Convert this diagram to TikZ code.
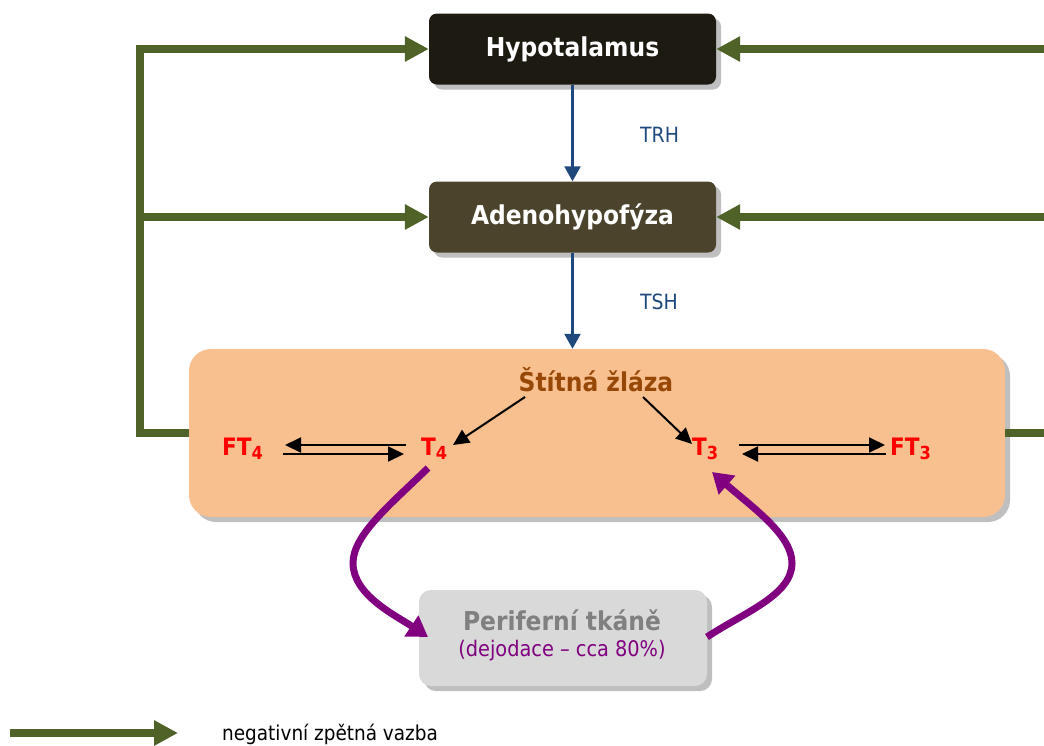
\documentclass[tikz,border=0pt]{standalone}
\usepackage{fontspec}
\setmainfont{DejaVu Sans Condensed}
\usetikzlibrary{arrows.meta,shadows}

\definecolor{hypoc}{HTML}{1D1A12}
\definecolor{adenoc}{HTML}{4B432C}
\definecolor{glandc}{HTML}{F9C08F}
\definecolor{periphc}{HTML}{D9D9D9}
\definecolor{shadec}{HTML}{BFBFBF}
\definecolor{feedc}{HTML}{4F6228}
\definecolor{hormc}{HTML}{1F497D}
\definecolor{purpc}{HTML}{800080}
\definecolor{brownc}{HTML}{984806}
\definecolor{greytxt}{HTML}{808080}

\newcommand\subnum[1]{\raisebox{-4pt}{\fontsize{18}{18}\selectfont #1}}

\tikzset{
  boxshadow/.style={drop shadow={shadow xshift=5pt, shadow yshift=-5pt, fill=shadec, opacity=1}},
  organbox/.style={rounded corners=8pt, minimum width=287pt, minimum height=71pt,
    inner sep=0pt, text=white, font=\bfseries\fontsize{26}{30}\selectfont, boxshadow},
  hormlabel/.style={anchor=base west, inner sep=0pt, text=hormc, font=\fontsize{21}{24}\selectfont},
  iodlabel/.style={anchor=base west, inner sep=0pt, text=red, font=\bfseries\fontsize{24}{28}\selectfont},
  feedback/.style={draw=feedc, line width=8pt, -{Triangle[length=24pt,width=24pt]}},
  hormone/.style={draw=hormc, line width=2.5pt, -{Triangle[length=15pt,width=16pt]}},
  convert/.style={draw=black, line width=2pt, -{Triangle[length=16pt,width=15pt]}},
  periflow/.style={draw=purpc, line width=7pt, -{Triangle[length=20pt,width=24pt]}},
}

\begin{document}
\begin{tikzpicture}[x=1pt,y=-1pt]
\useasboundingbox (0,0) rectangle (1044,745);
\clip (0,0) rectangle (1044,745);

% boxes
\node[organbox, fill=hypoc] (hypo) at (572.5,49) {Hypotalamus};
\node[organbox, fill=adenoc] (adeno) at (572.5,217) {Adenohypofýza};
\node[fill=glandc, rounded corners=22pt, minimum width=816pt, minimum height=168pt,
      inner sep=0pt, boxshadow] (gland) at (597,433) {};
\node[fill=periphc, rounded corners=12pt, minimum width=288pt, minimum height=96pt,
      inner sep=0pt, boxshadow] (periph) at (563,638) {};

% texts inside the periphery box
\node[anchor=base, inner sep=0pt, text=greytxt, font=\bfseries\fontsize{26}{30}\selectfont]
  (ptitle) at (562,630) {Periferní tkáně};
\node[anchor=base, inner sep=0pt, text=purpc, font=\fontsize{21.5}{25}\selectfont]
  (psub) at (562,656) {(dejodace – cca 80\%)};

% hormone labels
\node[hormlabel] (trh) at (640,142) {TRH};
\node[hormlabel] (tsh) at (640,309) {TSH};

% thyroid contents
\node[anchor=base, inner sep=0pt, text=brownc, font=\bfseries\fontsize{26}{30}\selectfont]
  (thyr) at (596,391) {Štítná žláza};
\node[iodlabel] (ft4) at (222,455) {FT\subnum{4}};
\node[iodlabel] (t4) at (421,455) {T\subnum{4}};
\node[iodlabel] (t3) at (692,455) {T\subnum{3}};
\node[iodlabel] (ft3) at (890,455) {FT\subnum{3}};

% axis hormones
\draw[hormone] (hypo.south) -- (adeno.north);
\draw[hormone] (adeno.south) -- (adeno.south |- gland.north);

% thyroid production
\coordinate (sL) at (525,397);
\coordinate (sR) at (643,397);
\draw[convert] (sL) -- (453,445);
\draw[convert] (sR) -- (692,444);

% free / bound equilibria
\draw[convert] (406,445) -- (285,445);
\draw[convert] (283,454) -- (404,454);
\draw[convert] (739,445) -- (885,445);
\draw[convert] (886,454) -- (742,454);

% peripheral deiodination loop
\draw[periflow] (428,468) .. controls (390,505) and (353,535) .. (353,563)
  .. controls (353,595) and (395,615) .. (428,637);
\draw[periflow] (707,637) .. controls (745,612) and (792,595) .. (792,563)
  .. controls (792,535) and (752,507) .. (712,472);

% negative feedback
\coordinate (lcorner) at (140,433);
\draw[feedback] (gland.west) -- (lcorner) -- (140,49) -- (hypo.west);
\draw[feedback] (140,217) -- (adeno.west);
\coordinate (rcorner) at (1070,433);
\draw[draw=feedc, line width=8pt] (gland.east) -- (rcorner) -- (1070,49);
\draw[feedback] (1070,49) -- (hypo.east);
\draw[feedback] (1070,217) -- (adeno.east);

% legend
\coordinate (legA) at (10,733);
\coordinate (legB) at (178,733);
\draw[feedback] (legA) -- (legB);
\node[anchor=base west, inner sep=0pt, font=\fontsize{20.5}{24}\selectfont] (legtxt) at (222,740) {negativní zpětná vazba};
\end{tikzpicture}
\end{document}
